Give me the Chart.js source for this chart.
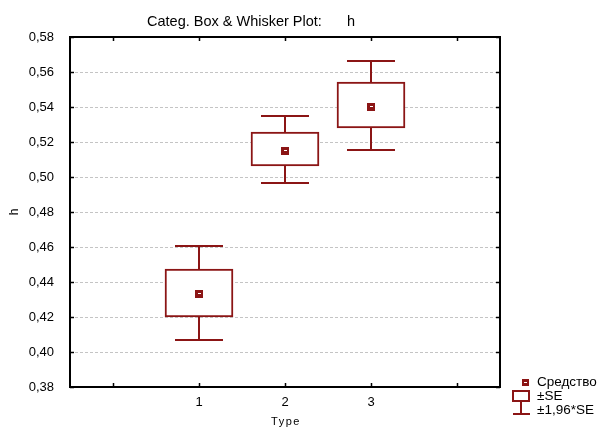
<!DOCTYPE html>
<html>
<head>
<meta charset="utf-8">
<script src="https://cdn.jsdelivr.net/npm/chart.js@4.4.1/dist/chart.umd.min.js"></script>
<style>
  html, body { margin: 0; padding: 0; background: #fff; }
  #wrap { width: 599px; height: 429px; }
</style>
</head>
<body>
<div id="wrap"><canvas id="chart"></canvas></div>
<script>
// data (empty slots keep the axis padding on both sides)
const categories = ['', '1', '2', '3', ''];
const means  = [null, 0.4331, 0.5149, 0.5400, null];
const seLow  = [null, 0.4200, 0.5063, 0.5280, null];
const seHigh = [null, 0.4474, 0.5257, 0.5543, null];
const ciLow  = [null, 0.4069, 0.4966, 0.5154, null];
const ciHigh = [null, 0.4606, 0.5349, 0.5663, null];
const yMin = 0.38, yMax = 0.58, yStep = 0.02;
const legendLabels = ['Средство', '±SE', '±1,96*SE'];

const RED = '#8b1515';
const FONT = '"Liberation Sans", Arial, sans-serif';
const fmt = v => v.toFixed(2).replace('.', ',');

// frame, dashed grid, whiskers, means, title and legend
const boxWhisker = {
    id: 'boxWhisker',
    beforeDatasetsDraw(chart) {
        const { ctx, chartArea: a, scales: { x, y } } = chart;
        ctx.save();
        ctx.strokeStyle = '#c4c4c4';
        ctx.lineWidth = 1;
        ctx.setLineDash([3, 2]);
        y.ticks.forEach(t => {
            if (t.value <= yMin + 1e-9 || t.value >= yMax - 1e-9) return;
            const py = Math.round(y.getPixelForValue(t.value)) + 0.5;
            ctx.beginPath();
            ctx.moveTo(a.left, py);
            ctx.lineTo(a.right, py);
            ctx.stroke();
        });
        ctx.setLineDash([]);

        // whiskers
        ctx.strokeStyle = RED;
        ctx.lineWidth = 2;
        categories.forEach((c, i) => {
            if (means[i] == null) return;
            const px = Math.round(x.getPixelForValue(i));
            const half = 24;
            const top = y.getPixelForValue(ciHigh[i]);
            const bot = y.getPixelForValue(ciLow[i]);
            ctx.beginPath();
            ctx.moveTo(px, top); ctx.lineTo(px, y.getPixelForValue(seHigh[i]));
            ctx.moveTo(px, bot); ctx.lineTo(px, y.getPixelForValue(seLow[i]));
            ctx.moveTo(px - half, top); ctx.lineTo(px + half, top);
            ctx.moveTo(px - half, bot); ctx.lineTo(px + half, bot);
            ctx.stroke();
        });
        ctx.restore();
    },
    afterDatasetsDraw(chart) {
        const { ctx, chartArea: a, scales: { x, y } } = chart;
        ctx.save();
        // means
        categories.forEach((c, i) => {
            if (means[i] == null) return;
            const px = Math.round(x.getPixelForValue(i));
            const py = Math.round(y.getPixelForValue(means[i]));
            ctx.fillStyle = RED;
            ctx.fillRect(px - 4, py - 4, 8, 8);
            ctx.fillStyle = '#fff';
            ctx.fillRect(px - 1, py - 1, 3, 1);
        });

        // frame
        ctx.strokeStyle = '#000';
        ctx.lineWidth = 2;
        ctx.strokeRect(a.left, a.top, a.right - a.left, a.bottom - a.top);
        ctx.lineWidth = 1.5;
        ctx.beginPath();
        categories.forEach((c, i) => {
            const px = Math.round(x.getPixelForValue(i)) + 0.5;
            ctx.moveTo(px, a.top); ctx.lineTo(px, a.top + 4);
            ctx.moveTo(px, a.bottom); ctx.lineTo(px, a.bottom - 4);
        });
        y.ticks.forEach(t => {
            const py = Math.round(y.getPixelForValue(t.value)) + 0.5;
            ctx.moveTo(a.left, py); ctx.lineTo(a.left + 4, py);
            ctx.moveTo(a.right, py); ctx.lineTo(a.right - 4, py);
        });
        ctx.stroke();

        // title
        ctx.fillStyle = '#000';
        ctx.font = '14.5px ' + FONT;
        ctx.textBaseline = 'middle';
        ctx.textAlign = 'left';
        ctx.fillText('Categ. Box & Whisker Plot:', 147, 22, 176);
        ctx.fillText('h', 347, 22);

        // x title
        ctx.font = '11px ' + FONT;
        ctx.letterSpacing = '1.5px';
        ctx.textAlign = 'center';
        ctx.fillText('Type', (a.left + a.right) / 2 + 1, 422);
        ctx.letterSpacing = '0px';

        // legend
        const lx = a.right + 24;
        ctx.font = '13.5px ' + FONT;
        ctx.textAlign = 'left';
        ctx.fillStyle = RED;
        ctx.fillRect(lx - 2, 379, 7, 7);
        ctx.fillStyle = '#fff';
        ctx.fillRect(lx, 382, 3, 1);
        ctx.strokeStyle = RED;
        ctx.lineWidth = 2;
        ctx.strokeRect(a.right + 13, 391, 16, 10);
        ctx.beginPath();
        ctx.moveTo(a.right + 21, 402); ctx.lineTo(a.right + 21, 414);
        ctx.moveTo(a.right + 13, 414); ctx.lineTo(a.right + 30, 414);
        ctx.stroke();
        ctx.fillStyle = '#000';
        ctx.fillText(legendLabels[0], a.right + 37, 382);
        ctx.fillText(legendLabels[1], a.right + 37, 396);
        ctx.fillText(legendLabels[2], a.right + 37, 410);
        ctx.restore();
    }
};

new Chart(document.getElementById('chart'), {
    type: 'bar',
    data: {
        labels: categories,
        datasets: [{
            label: '±SE',
            data: categories.map((c, i) => seLow[i] == null ? null : [seLow[i], seHigh[i]]),
            backgroundColor: '#fff',
            borderColor: RED,
            borderWidth: 2,
            borderSkipped: false,
            barThickness: 68
        }]
    },
    options: {
        responsive: true,
        maintainAspectRatio: false,
        animation: false,
        layout: { padding: { top: 37, right: 99, left: 0, bottom: 0 } },
        plugins: {
            legend: { display: false },
            title: { display: false },
            tooltip: { enabled: false }
        },
        scales: {
            x: {
                offset: true,
                grid: { display: false },
                border: { display: false },
                ticks: { color: '#000', padding: 0, maxRotation: 0, font: { family: FONT, size: 13 } },
                afterFit: s => { s.height = 42; }
            },
            y: {
                min: yMin,
                max: yMax,
                grid: { display: false },
                border: { display: false },
                ticks: {
                    stepSize: yStep,
                    color: '#000',
                    padding: 8,
                    font: { family: FONT, size: 13 },
                    callback: v => fmt(v)
                },
                title: {
                    display: true,
                    text: 'h',
                    color: '#000',
                    font: { family: FONT, size: 12 },
                    padding: { top: 7, bottom: 0 }
                },
                afterFit: s => { s.width = 70; }
            }
        }
    },
    plugins: [boxWhisker]
});
</script>
</body>
</html>
